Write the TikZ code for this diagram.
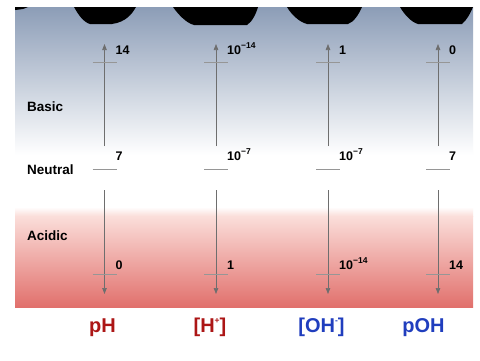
\documentclass[tikz,border=0pt]{standalone}
\usepackage{fontspec}
\setmainfont{Liberation Sans}
\usetikzlibrary{arrows.meta}
\definecolor{topblue}{RGB}{140,157,183}
\definecolor{pinktop}{RGB}{251,222,218}
\definecolor{redbot}{RGB}{225,112,108}
\definecolor{axisgray}{RGB}{110,110,110}
\definecolor{tickgray}{RGB}{150,150,150}
\definecolor{labred}{RGB}{172,22,22}
\definecolor{labblue}{RGB}{32,62,190}
\newcommand{\sups}[1]{\raisebox{0.45em}{\fontsize{8.5}{9}\selectfont #1}}
\begin{document}
\begin{tikzpicture}[x=1pt,y=-1pt,
  axisline/.style={draw=axisgray,line width=0.7pt},
  tickline/.style={draw=tickgray,line width=0.7pt},
  tip/.style={-{Triangle[length=6pt,width=4.5pt]}},
  num/.style={font=\fontsize{12.5}{13}\selectfont\bfseries,inner sep=0pt,anchor=base west},
  side/.style={font=\fontsize{13.5}{14}\selectfont\bfseries,inner sep=0pt,anchor=west},
  bottomlab/.style={font=\fontsize{20}{22}\selectfont\bfseries,inner sep=0pt,anchor=base},
  blob/.style={fill=black}]
\useasboundingbox (0,0) rectangle (480,360);
\fill[white] (0,0) rectangle (480,360);
% background bands
\shade[top color=topblue,bottom color=white] (15,7) rectangle (473,155);
\fill[white] (15,155) rectangle (473,207);
\shade[top color=white,bottom color=pinktop] (15,207) rectangle (473,216);
\shade[top color=pinktop,bottom color=redbot] (15,216) rectangle (473,307);
% black shapes at top
\fill[blob] (15,7) -- (28,7) .. controls (24,9) .. (15,10) -- cycle;
\fill[blob] (74,7) .. controls (78,14) and (83,22) .. (90,24) -- (112,24) .. controls (126,22) and (132,14) .. (136,7) -- cycle;
\fill[blob] (173,7) .. controls (178,14) and (186,23) .. (194,25) -- (247,25) .. controls (252,22) and (256,14) .. (258,7) -- cycle;
\fill[blob] (287,7) .. controls (291,14) and (299,22) .. (307,24) -- (348,24) .. controls (354,22) and (359,14) .. (362,7) -- cycle;
\fill[blob] (400,7) .. controls (404,14) and (411,22) .. (418,24) -- (462,24) .. controls (467,20) and (471,12) .. (473,7) -- cycle;
% side labels
\node[side] (basic) at (27,107) {Basic};
\node[side] (neutral) at (27,170) {Neutral};
\node[side] (acidic) at (27,236) {Acidic};
% axes
\foreach \n/\x/\a/\b/\c in {ph/104.5/14/7/0, h/216/{10\sups{−14}}/{10\sups{−7}}/1, oh/328/1/{10\sups{−7}}/{10\sups{−14}}, poh/438/0/7/14}{
  \coordinate (\n-top) at (\x,44);
  \coordinate (\n-m1) at (\x,146);
  \coordinate (\n-m2) at (\x,190);
  \coordinate (\n-bot) at (\x,294);
  \draw[axisline,tip] (\n-m1) -- (\n-top);
  \draw[axisline,tip] (\n-m2) -- (\n-bot);
  \coordinate (\n-t1l) at (\x-12,62);  \coordinate (\n-t1r) at (\x+12,62);
  \coordinate (\n-t2l) at (\x-12,169); \coordinate (\n-t2r) at (\x+12,169);
  \coordinate (\n-t3l) at (\x-12,274); \coordinate (\n-t3r) at (\x+12,274);
  \draw[tickline] (\n-t1l) -- (\n-t1r);
  \draw[tickline] (\n-t2l) -- (\n-t2r);
  \draw[tickline] (\n-t3l) -- (\n-t3r);
  \node[num] (\n-la) at (\x+11,54) {\a};
  \node[num] (\n-lb) at (\x+11,160) {\b};
  \node[num] (\n-lc) at (\x+11,269) {\c};
}
% bottom labels
\node[bottomlab,text=labred] (lph) at (102.5,332) {pH};
\node[bottomlab,text=labred] (lh) at (210,332) {[H\sups{+}]};
\node[bottomlab,text=labblue] (loh) at (321.5,332) {[OH\sups{-}]};
\node[bottomlab,text=labblue] (lpoh) at (423.5,332) {pOH};
\end{tikzpicture}
\end{document}
